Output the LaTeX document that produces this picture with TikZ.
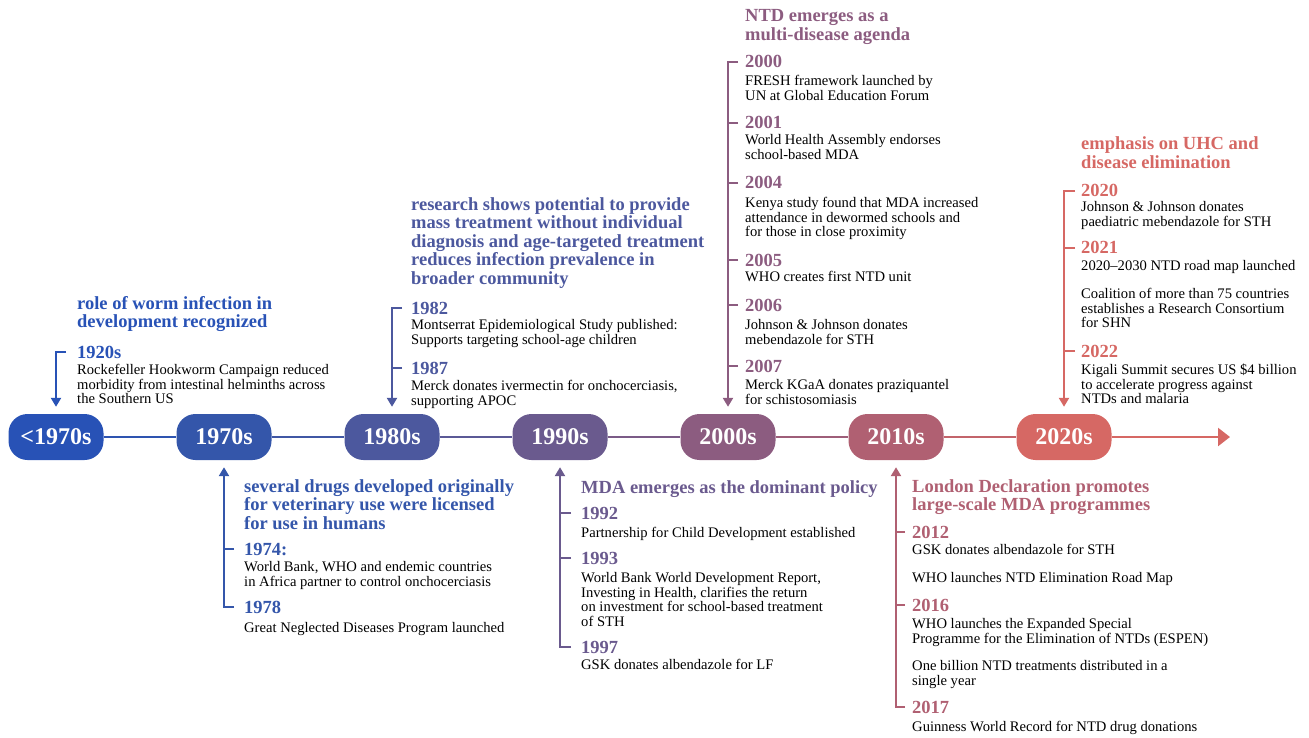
\documentclass[tikz,border=0pt]{standalone}
\usepackage{fontspec}
\setmainfont{Liberation Serif}
\usetikzlibrary{arrows.meta}

\definecolor{cA}{RGB}{40,82,182}
\definecolor{cB}{RGB}{52,86,170}
\definecolor{cC}{RGB}{76,88,158}
\definecolor{cD}{RGB}{106,90,142}
\definecolor{cE}{RGB}{140,92,128}
\definecolor{cF}{RGB}{176,96,114}
\definecolor{cG}{RGB}{214,104,100}

\begin{document}
\begin{tikzpicture}[x=1pt, y=-1pt,
                    decade/.style = {fill=#1, text=white, rounded corners=19pt,
                      minimum width=95pt, minimum height=46pt, inner sep=0pt,
                      font=\bfseries\fontsize{24}{24}\selectfont},
                    hdr/.style = {text=#1, anchor=base west, align=left, inner sep=0pt,
                      font=\bfseries\fontsize{18.5}{18.5}\selectfont},
                    yr/.style = {text=#1, anchor=base west, inner sep=0pt,
                      font=\bfseries\fontsize{18.5}{18.5}\selectfont},
                    txt/.style = {anchor=base west, align=left, inner sep=0pt,
                      font=\fontsize{14.6}{14.6}\selectfont},
                    brk/.style = {draw=#1, line width=2.5pt},
                    tip/.style = {-{Triangle[width=10pt,length=9pt]}, shorten >=7pt}]
  \useasboundingbox (0,0) rectangle (1309,738);

  \node[decade=cA] (p0) at (56,437)   {<1970s};
  \node[decade=cB] (p1) at (224,437)  {1970s};
  \node[decade=cC] (p2) at (392,437)  {1980s};
  \node[decade=cD] (p3) at (560,437)  {1990s};
  \node[decade=cE] (p4) at (728,437)  {2000s};
  \node[decade=cF] (p5) at (896,437)  {2010s};
  \node[decade=cG] (p6) at (1064,437) {2020s};
  \coordinate (end) at (1230,437);

  \draw[line width=2.5pt, cA!50!cB] (p0.east) -- (p1.west);
  \draw[line width=2.5pt, cB!50!cC] (p1.east) -- (p2.west);
  \draw[line width=2.5pt, cC!50!cD] (p2.east) -- (p3.west);
  \draw[line width=2.5pt, cD!50!cE] (p3.east) -- (p4.west);
  \draw[line width=2.5pt, cE!50!cF] (p4.east) -- (p5.west);
  \draw[line width=2.5pt, cF!50!cG] (p5.east) -- (p6.west);
  \draw[line width=2.5pt, cG, -{Triangle[width=18pt,length=12pt]}] (p6.east) -- (end);

  % <1970s  (multi-line nodes sit on the baseline of their last line)
  \node[hdr=cA] (h0) at (77,327.5) {role of worm infection in\\development recognized};
  \node[yr=cA] (y1920) at (77,358) {1920s};
  \node[txt] (t1920) at (77,403.7) {Rockefeller Hookworm Campaign reduced\\morbidity from intestinal helminths across\\the Southern US};
  \draw[brk=cA, tip, shorten <=11pt] (y1920.west) -| (p0.north);

  % 1970s
  \node[hdr=cB] (h1) at (244,529) {several drugs developed originally\\for veterinary use were licensed\\for use in humans};
  \node[yr=cB] (y1974) at (244,555) {1974:};
  \node[txt] (t1974) at (244,586.1) {World Bank, WHO and endemic countries\\in Africa partner to control onchocerciasis};
  \node[yr=cB] (y1978) at (244,613) {1978};
  \node[txt] (t1978) at (244,632.5) {Great Neglected Diseases Program launched};
  \draw[brk=cB, tip, shorten <=10pt] (y1978.west) -| (p1.south);
  \draw[brk=cB, shorten <=10pt] (y1974.west) -- (y1974.west -| p1.south);

  % 1980s
  \node[hdr=cC] (h2) at (411,284) {research shows potential to provide\\mass treatment without individual\\diagnosis and age-targeted treatment\\reduces infection prevalence in\\broader community};
  \node[yr=cC] (y1982) at (411,314) {1982};
  \node[txt] (t1982) at (411,344.1) {Montserrat Epidemiological Study published:\\Supports targeting school-age children};
  \node[yr=cC] (y1987) at (411,374) {1987};
  \node[txt] (t1987) at (411,405.1) {Merck donates ivermectin for onchocerciasis,\\supporting APOC};
  \draw[brk=cC, tip, shorten <=9pt] (y1982.west) -| (p2.north);
  \draw[brk=cC, shorten <=9pt] (y1987.west) -- (y1987.west -| p2.north);

  % 1990s
  \node[hdr=cD] (h3) at (581,493) {MDA emerges as the dominant policy};
  \node[yr=cD] (y1992) at (581,519) {1992};
  \node[txt] (t1992) at (581,537.5) {Partnership for Child Development established};
  \node[yr=cD] (y1993) at (581,564) {1993};
  \node[txt] (t1993) at (581,626.3) {World Bank World Development Report,\\Investing in Health, clarifies the return\\on investment for school-based treatment\\of STH};
  \node[yr=cD] (y1997) at (581,653) {1997};
  \node[txt] (t1997) at (581,669.5) {GSK donates albendazole for LF};
  \draw[brk=cD, tip, shorten <=10pt] (y1997.west) -| (p3.south);
  \draw[brk=cD, shorten <=10pt] (y1992.west) -- (y1992.west -| p3.south);
  \draw[brk=cD, shorten <=10pt] (y1993.west) -- (y1993.west -| p3.south);

  % 2000s
  \node[hdr=cE] (h4) at (745,40.5) {NTD emerges as a\\multi-disease agenda};
  \node[yr=cE] (y2000) at (745,68) {2000};
  \node[txt] (t2000) at (745,100.1) {FRESH framework launched by\\UN at Global Education Forum};
  \node[yr=cE] (y2001) at (745,129) {2001};
  \node[txt] (t2001) at (745,159.1) {World Health Assembly endorses\\school-based MDA};
  \node[yr=cE] (y2004) at (745,189) {2004};
  \node[txt] (t2004) at (745,236.7) {Kenya study found that MDA increased\\attendance in dewormed schools and\\for those in close proximity};
  \node[yr=cE] (y2005) at (745,266) {2005};
  \node[txt] (t2005) at (745,281.5) {WHO creates first NTD unit};
  \node[yr=cE] (y2006) at (745,311) {2006};
  \node[txt] (t2006) at (745,344.1) {Johnson \& Johnson donates\\mebendazole for STH};
  \node[yr=cE] (y2007) at (745,372) {2007};
  \node[txt] (t2007) at (745,404.1) {Merck KGaA donates praziquantel\\for schistosomiasis};
  \draw[brk=cE, tip, shorten <=7pt] (y2000.west) -| (p4.north);
  \foreach \y in {2001,2004,2005,2006,2007}
    \draw[brk=cE, shorten <=7pt] (y\y.west) -- (y\y.west -| p4.north);

  % 2010s
  \node[hdr=cF] (h5) at (912,510.5) {London Declaration promotes\\large-scale MDA programmes};
  \node[yr=cF] (y2012) at (912,538) {2012};
  \node[txt] (t2012a) at (912,554.5) {GSK donates albendazole for STH};
  \node[txt] (t2012b) at (912,582.5) {WHO launches NTD Elimination Road Map};
  \node[yr=cF] (y2016) at (912,611) {2016};
  \node[txt] (t2016a) at (912,643.1) {WHO launches the Expanded Special\\Programme for the Elimination of NTDs (ESPEN)};
  \node[txt] (t2016b) at (912,685.1) {One billion NTD treatments distributed in a\\single year};
  \node[yr=cF] (y2017) at (912,713) {2017};
  \node[txt] (t2017) at (912,731.5) {Guinness World Record for NTD drug donations};
  \draw[brk=cF, tip, shorten <=7pt] (y2017.west) -| (p5.south);
  \foreach \y in {2012,2016}
    \draw[brk=cF, shorten <=7pt] (y\y.west) -- (y\y.west -| p5.south);

  % 2020s
  \node[hdr=cG] (h6) at (1081,168.5) {emphasis on UHC and\\disease elimination};
  \node[yr=cG] (y2020) at (1081,197) {2020};
  \node[txt] (t2020) at (1081,226.1) {Johnson \& Johnson donates\\paediatric mebendazole for STH};
  \node[yr=cG] (y2021) at (1081,254) {2021};
  \node[txt] (t2021a) at (1081,270.5) {2020–2030 NTD road map launched};
  \node[txt] (t2021b) at (1081,327.7) {Coalition of more than 75 countries\\establishes a Research Consortium\\for SHN};
  \node[yr=cG] (y2022) at (1081,357) {2022};
  \node[txt] (t2022) at (1081,403.7) {Kigali Summit secures US \$4 billion\\to accelerate progress against\\NTDs and malaria};
  \draw[brk=cG, tip, shorten <=6pt] (y2020.west) -| (p6.north);
  \foreach \y in {2021,2022}
    \draw[brk=cG, shorten <=6pt] (y\y.west) -- (y\y.west -| p6.north);
\end{tikzpicture}
\end{document}
